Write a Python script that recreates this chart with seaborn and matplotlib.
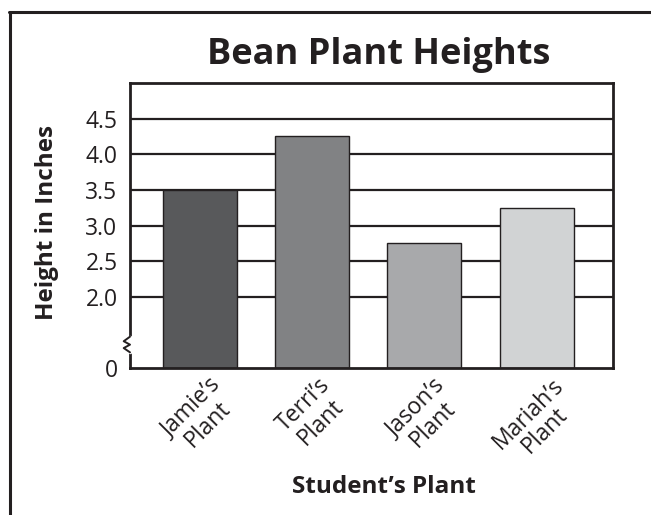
import seaborn as sns
import matplotlib.pyplot as plt
import numpy as np
from matplotlib.lines import Line2D

plants = ["Jamie\u2019s\nPlant", "Terri\u2019s\nPlant", "Jason\u2019s\nPlant", "Mariah\u2019s\nPlant"]
heights = [3.5, 4.25, 2.75, 3.25]
colors = ["#58595b", "#808285", "#a7a9ac", "#d1d3d4"]
yticks = [0, 2.0, 2.5, 3.0, 3.5, 4.0, 4.5]
ytick_labels = ["0", "2.0", "2.5", "3.0", "3.5", "4.0", "4.5"]

sns.set_style("white")
plt.rcParams['font.family'] = ['Open Sans', 'DejaVu Sans']
ink = "#231f20"

fig = plt.figure(figsize=(6.51, 5.15), dpi=100)
ax = fig.add_axes([0.1997, 0.2854, 0.7419, 0.5534])


# broken axis: 0..2 squeezed into one half-step
def fwd(y):
    y = np.asarray(y, dtype=float)
    return np.where(y < 2, y / 2, y - 1)


def inv(t):
    t = np.asarray(t, dtype=float)
    return np.where(t < 1, t * 2, t + 1)


ax.set_yscale('function', functions=(fwd, inv))

for g in yticks[1:]:
    ax.axhline(g, color=ink, lw=1.6, zorder=0)

sns.barplot(x=plants, y=heights, hue=plants, palette=colors, legend=False,
            width=0.66, edgecolor=ink, linewidth=1.0, ax=ax, zorder=2)

ax.set_ylim(0, 5.0)
ax.set_xlim(-0.62, 3.68)
ax.set_yticks(yticks)
ax.set_yticklabels(ytick_labels, fontsize=16.5)
ax.minorticks_off()
ax.tick_params(axis='y', length=0, pad=9, colors=ink)
ax.tick_params(axis='x', length=0, pad=4, colors=ink)
ax.set_xticks(range(len(plants)))
ax.set_xticklabels(plants, rotation=45, ha='center', va='top', fontsize=16.5,
                   linespacing=1.0)

for s in ax.spines.values():
    s.set_visible(True)
    s.set_color(ink)
    s.set_linewidth(2.0)

# axis break mark
zx = [0.0, -0.013, 0.0, -0.013, 0.0]
zy = [0.055, 0.07, 0.082, 0.094, 0.11]
ax.plot([0, 0], [0.055, 0.11], transform=ax.transAxes, color="white", lw=2.5,
        clip_on=False, zorder=5)
ax.plot(zx, zy, transform=ax.transAxes, color=ink, lw=1.4, clip_on=False, zorder=6)

ax.set_ylabel("Height in Inches", fontsize=17.5, fontweight='bold', color=ink)
ax.yaxis.set_label_coords(-0.148, 0.51)
ax.set_xlabel("Student\u2019s Plant", fontsize=17.5, fontweight='bold', color=ink)
ax.xaxis.set_label_coords(0.525, -0.375)
fig.text(0.582, 0.893, "Bean Plant Heights", ha='center', va='center',
         fontsize=26, fontweight='bold', color=ink)

# outer frame (left and top only)
fig.add_artist(Line2D([0.0154, 0.0154], [0.0, 0.977], color=ink, lw=2.2))
fig.add_artist(Line2D([0.0138, 1.0], [0.977, 0.977], color=ink, lw=2.2))

fig.savefig("out.png", dpi=100)
